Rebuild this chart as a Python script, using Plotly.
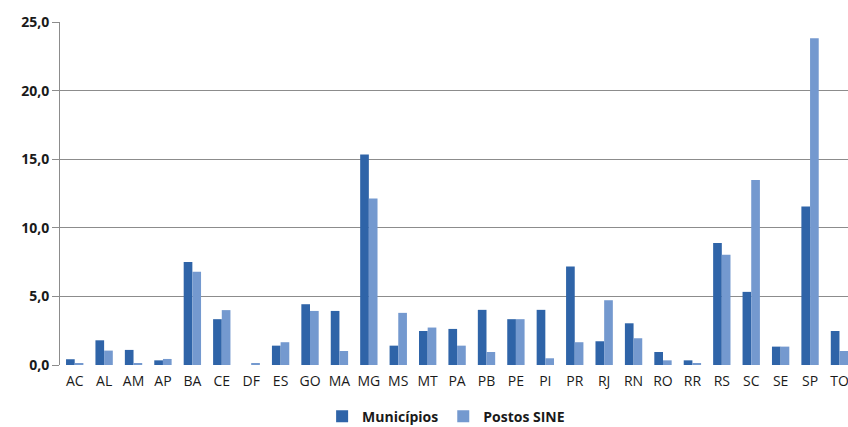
import plotly.graph_objects as go

# Distribution by state (%)
estados = ["AC", "AL", "AM", "AP", "BA", "CE", "DF", "ES", "GO", "MA", "MG", "MS", "MT", "PA",
           "PB", "PE", "PI", "PR", "RJ", "RN", "RO", "RR", "RS", "SC", "SE", "SP", "TO"]
municipios = [0.42, 1.8, 1.1, 0.34, 7.5, 3.34, 0.0, 1.41, 4.43, 3.94, 15.34, 1.41, 2.48, 2.63,
              4.02, 3.34, 4.02, 7.18, 1.73, 3.04, 0.95, 0.34, 8.89, 5.33, 1.34, 11.56, 2.48]
postos_sine = [0.12, 1.05, 0.1, 0.44, 6.8, 4.0, 0.1, 1.66, 3.94, 1.02, 12.13, 3.8, 2.73, 1.41,
               0.95, 3.34, 0.49, 1.66, 4.72, 1.95, 0.34, 0.12, 8.03, 13.49, 1.34, 23.81, 1.02]
y_ticks = [0, 5, 10, 15, 20, 25]
y_tick_text = ["0,0", "5,0", "10,0", "15,0", "20,0", "25,0"]

fig = go.Figure()
fig.add_trace(go.Bar(x=estados, y=municipios, name="Municípios",
                     marker=dict(color="#2F64A8", line=dict(width=0))))
fig.add_trace(go.Bar(x=estados, y=postos_sine, name="Postos SINE",
                     marker=dict(color="#7499CF", line=dict(width=0))))

fig.update_layout(
    width=848, height=427,
    margin=dict(l=60, r=0, t=22, b=62, autoexpand=False),
    paper_bgcolor="white", plot_bgcolor="white",
    barmode="group", bargap=0.41, bargroupgap=0,
    font=dict(family="Open Sans, Liberation Sans, sans-serif", color="#000000"),
    showlegend=True,
    legend=dict(orientation="h", x=0.49, xanchor="center",
                yref="container", y=0.024, yanchor="middle",
                font=dict(size=14, weight="bold", color="#1a1a1a"),
                traceorder="normal", itemwidth=30),
    xaxis=dict(range=[-0.5, 26.29], showgrid=False, zeroline=False, showline=False,
               ticks="", ticklabelstandoff=6, tickfont=dict(size=14, color="#1a1a1a")),
    yaxis=dict(range=[0, 25], tickvals=y_ticks, ticktext=y_tick_text,
               showgrid=True, gridcolor="#8C8C8C", gridwidth=1, zeroline=False,
               showline=True, linecolor="#8C8C8C", linewidth=1,
               ticks="outside", ticklen=7, tickcolor="#8C8C8C",
               tickfont=dict(size=14, weight="bold", color="#1a1a1a")),
)

fig.write_html("out.html")
